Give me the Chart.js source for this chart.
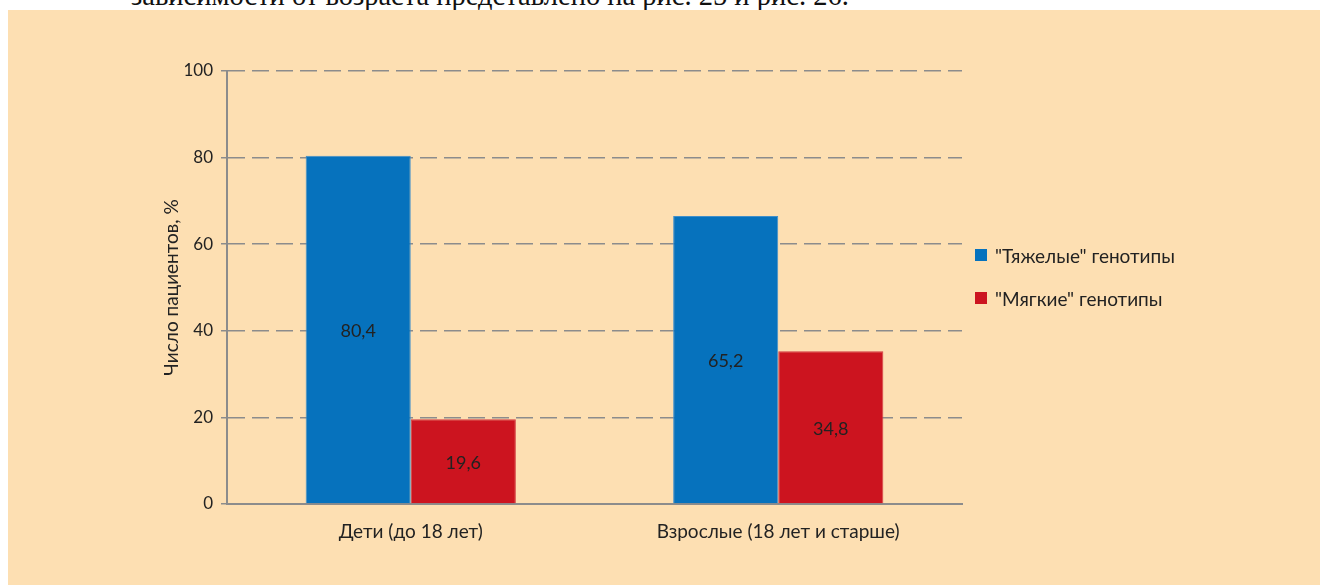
<!DOCTYPE html>
<html>
<head>
<meta charset="utf-8">
<script src="https://cdn.jsdelivr.net/npm/chart.js@4.4.1/dist/chart.umd.min.js"></script>
<style>
    body { margin: 0; background: #fff; width: 1327px; height: 585px; overflow: hidden; position: relative; font-family: Lato, sans-serif; }
    #topText { position: absolute; left: 131px; top: -18px; font: 28.5px/1 "Liberation Serif", serif; color: #111; white-space: nowrap; }
    #panel { position: absolute; left: 8px; top: 10px; width: 1312px; height: 575px; background: #fddfb2; }
    #chartBox { position: absolute; left: 150px; top: 40px; width: 830px; height: 520px; }
    #legend { position: absolute; left: 975px; top: 243px; font-size: 19px; color: #222; }
    .item { display: flex; align-items: center; height: 24px; margin-bottom: 19px; }
    .swatch { width: 12px; height: 12px; margin-right: 8px; }
</style>
</head>
<body>
<div id="topText">зависимости от возраста представлено на рис. 25 и рис. 26.</div>
<div id="panel"></div>
<div id="chartBox"><canvas id="ageChart"></canvas></div>
<div id="legend"></div>
<script>
const categories = ['Дети (до 18 лет)', 'Взрослые (18 лет и старше)'];
const seriesNames = ['"Тяжелые" генотипы', '"Мягкие" генотипы'];
// bar heights as drawn, and the numbers printed on them
const heavyValues = [80.4, 66.5];
const heavyLabels = ['80,4', '65,2'];
const mildValues = [19.6, 35.3];
const mildLabels = ['19,6', '34,8'];
const yTicks = [0, 20, 40, 60, 80, 100];

const colors = ['#0672bd', '#cc141f'];
const gridColor = '#8c8c8c';

// writes the value text in the middle of each bar
const barLabels = {
    id: 'barLabels',
    afterDatasetsDraw(chart) {
        const ctx = chart.ctx;
        ctx.save();
        ctx.font = '18px Lato, sans-serif';
        ctx.fillStyle = '#222';
        ctx.textAlign = 'center';
        ctx.textBaseline = 'middle';
        chart.data.datasets.forEach((ds, i) => {
            chart.getDatasetMeta(i).data.forEach((bar, j) => {
                ctx.fillText(ds.valueLabels[j], bar.x, (bar.y + bar.base) / 2 + 2);
            });
        });
        ctx.restore();
    }
};

const chart = new Chart(document.getElementById('ageChart'), {
    type: 'bar',
    data: {
        labels: categories,
        datasets: [
            { label: seriesNames[0], data: heavyValues, valueLabels: heavyLabels, backgroundColor: colors[0], borderColor: '#3f8fcb', borderWidth: 1 },
            { label: seriesNames[1], data: mildValues, valueLabels: mildLabels, backgroundColor: colors[1], borderColor: '#d23a40', borderWidth: 1 }
        ]
    },
    options: {
        responsive: true,
        maintainAspectRatio: false,
        animation: false,
        datasets: { bar: { barPercentage: 1, categoryPercentage: 0.572 } },
        layout: { padding: { top: 31, right: 18, bottom: 0, left: 0 } },
        plugins: { legend: { display: false }, tooltip: { enabled: false } },
        scales: {
            x: {
                grid: { display: false },
                border: { display: true, color: gridColor, width: 2 },
                ticks: { color: '#222', font: { family: 'Lato', size: 19 }, padding: 8 },
                afterFit: s => { s.height = 56; }
            },
            y: {
                min: 0,
                max: 100,
                afterBuildTicks: s => { s.ticks = yTicks.map(v => ({ value: v })); },
                grid: { color: gridColor, lineWidth: 1.5, tickLength: 6, tickColor: gridColor, tickWidth: 1.5 },
                border: { display: true, color: gridColor, width: 2, dash: [17, 7] },
                ticks: { color: '#222', font: { family: 'Lato', size: 17 }, padding: 8 },
                title: { display: true, text: 'Число пациентов, %', color: '#222', font: { family: 'Lato', size: 19 }, padding: { top: 10, bottom: 4 } },
                afterFit: s => { s.width = 77; }
            }
        }
    },
    plugins: [barLabels]
});

const legend = document.getElementById('legend');
chart.data.datasets.forEach(ds => {
    const item = document.createElement('div');
    item.className = 'item';
    item.innerHTML = `<span class="swatch" style="background:${ds.backgroundColor}"></span>${ds.label}`;
    legend.appendChild(item);
});
</script>
</body>
</html>
